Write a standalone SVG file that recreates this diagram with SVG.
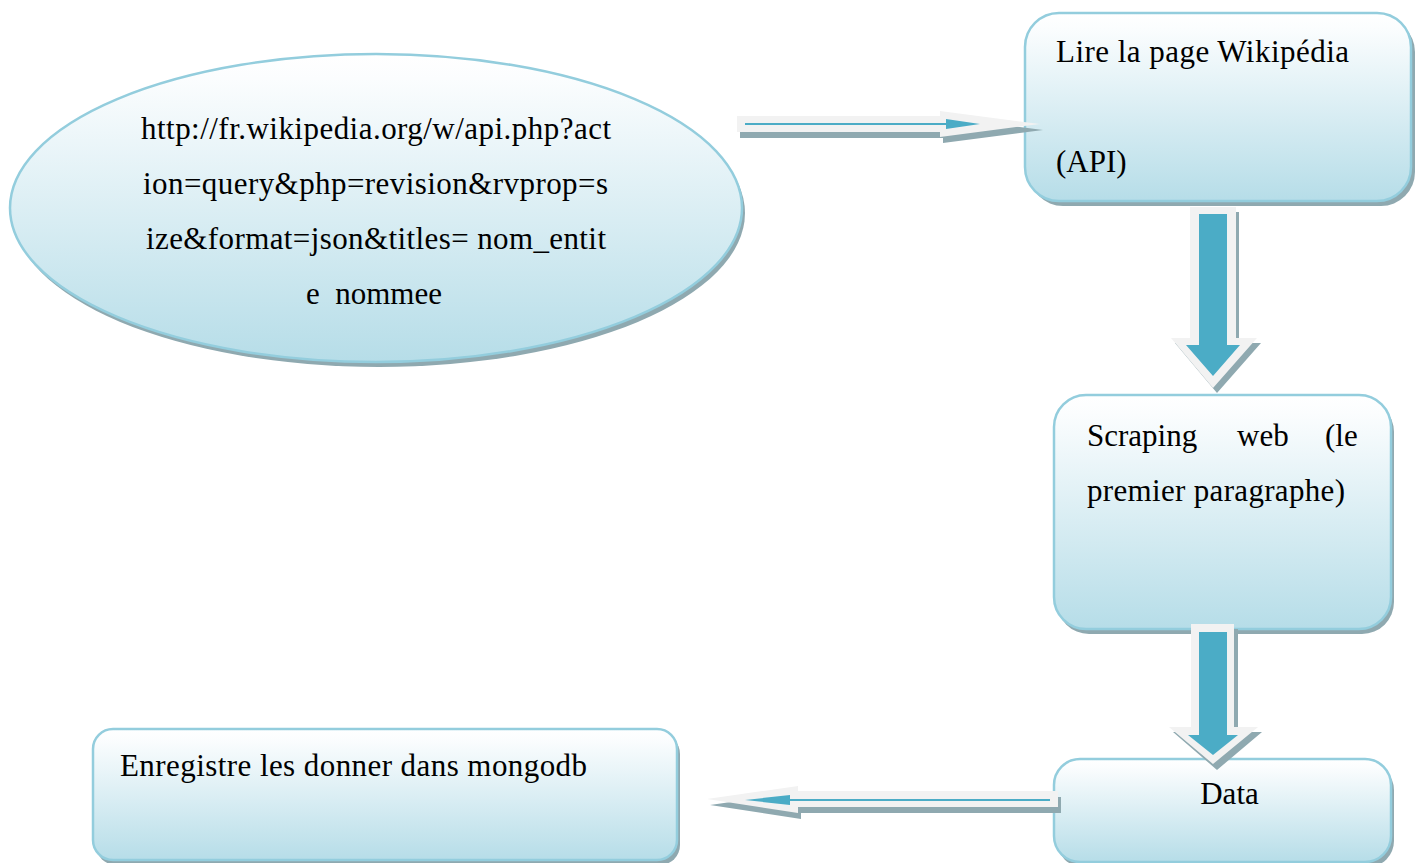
<svg xmlns="http://www.w3.org/2000/svg" width="1421" height="863" viewBox="0 0 1421 863">
<defs>
<linearGradient id="g" x1="0" y1="0" x2="0" y2="1">
<stop offset="0" stop-color="#ffffff"/>
<stop offset="0.08" stop-color="#fbfdfe"/>
<stop offset="1" stop-color="#b6dde8"/>
</linearGradient>
<style>
.node{fill:url(#g);stroke:#93cddd;stroke-width:2.5}
.shadow{fill:#8fa9b0}
.light{fill:#f2f2f2}
.blue{fill:#4bacc6}
.bline{stroke:#4bacc6;stroke-width:2;fill:none}
text{font-family:"Liberation Serif","Times New Roman",serif;font-size:31px;fill:#000}
</style>
</defs>
<rect width="1421" height="863" fill="#ffffff"/>
<g id="node-url">
<ellipse class="shadow" cx="379" cy="213" rx="366" ry="154"/>
<ellipse class="node" cx="376" cy="208" rx="366" ry="154"/>
<text x="141" y="139" textLength="470">http://fr.wikipedia.org/w/api.php?act</text>
<text x="143" y="194" textLength="465">ion=query&amp;php=revision&amp;rvprop=s</text>
<text x="146" y="249" textLength="460">ize&amp;format=json&amp;titles= nom_entit</text>
<text x="306" y="304" xml:space="preserve">e  nommee</text>
</g>
<g id="node-lire">
<rect class="shadow" x="1029" y="18" width="386" height="188" rx="34"/>
<rect class="node" x="1025" y="13" width="386" height="188" rx="34"/>
<text x="1056" y="62" textLength="293">Lire la page Wikipédia</text>
<text x="1056" y="172">(API)</text>
</g>
<g id="node-scraping">
<rect class="shadow" x="1057" y="400" width="337" height="234" rx="32"/>
<rect class="node" x="1054" y="395" width="337" height="234" rx="32"/>
<text x="1087" y="446">Scraping</text>
<text x="1237" y="446">web</text>
<text x="1325" y="446">(le</text>
<text x="1087" y="501" textLength="258">premier paragraphe)</text>
</g>
<g id="node-data">
<rect class="shadow" x="1057" y="764" width="337" height="103" rx="26"/>
<rect class="node" x="1054" y="759" width="337" height="103" rx="26"/>
<text x="1229.5" y="804" text-anchor="middle">Data</text>
</g>
<g id="node-enregistre">
<rect class="shadow" x="96" y="734" width="584" height="131" rx="20"/>
<rect class="node" x="93" y="729" width="584" height="131" rx="20"/>
<text x="120" y="776" textLength="467">Enregistre les donner dans mongodb</text>
</g>
<g id="connectors">
<g id="arrow-url-lire">
<polygon class="shadow" points="740,122 943,122 943,117 1043,130 943,143 943,138 740,138"/>
<polygon class="light" points="737,116 940,116 940,111 1040,124 940,137 940,132 737,132"/>
<line class="bline" x1="745" y1="124" x2="948" y2="124"/>
<polygon class="blue" points="946,119 980,124 946,129"/>
</g>
<g id="arrow-lire-scraping">
<polygon class="shadow" points="1194,212 1239,212 1239,343 1261,343 1217,393 1175,343 1194,343"/>
<polygon class="light" points="1190,207 1236,207 1236,338 1257,338 1213,388 1171,338 1190,338"/>
<polygon class="blue" points="1199,214 1227,214 1227,345 1240,345 1213,376 1186,345 1199,345"/>
</g>
<g id="arrow-scraping-data">
<polygon class="shadow" points="1194,629 1238,629 1238,732 1262,732 1217,770 1173,732 1194,732"/>
<polygon class="light" points="1191,624 1234,624 1234,727 1258,727 1213,764 1169,727 1191,727"/>
<polygon class="blue" points="1199,632 1227,632 1227,735 1238,735 1213,755 1188,735 1199,735"/>
</g>
<g id="arrow-data-enregistre">
<polygon class="shadow" points="1061,797 801,797 801,792 710,805 801,819 801,813 1061,813"/>
<polygon class="light" points="1058,791 798,791 798,786 707,799 798,813 798,807 1058,807"/>
<line class="bline" x1="1050" y1="800" x2="788" y2="800"/>
<polygon class="blue" points="790,795 745,800 790,805"/>
</g>
</g>
</svg>
